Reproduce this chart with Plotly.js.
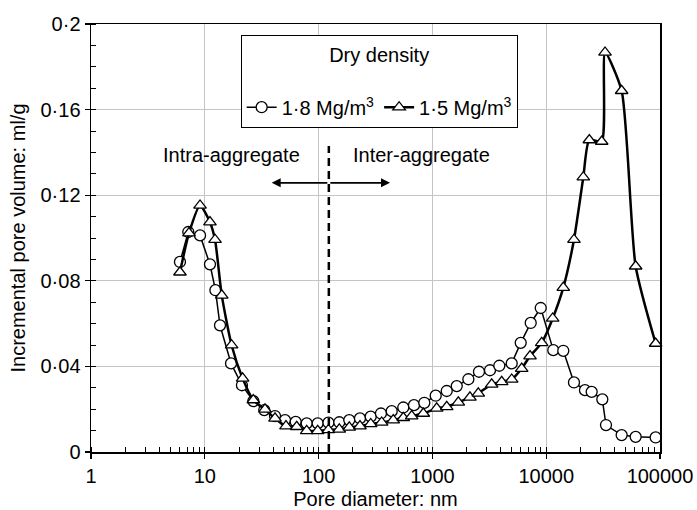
<!DOCTYPE html>
<html>
<head>
<meta charset="utf-8">
<script src="https://cdn.plot.ly/plotly-3.0.1.min.js"></script>
<style>html,body{margin:0;padding:0;background:#fff;}#chart{width:697px;height:510px;}</style>
</head>
<body>
<div id="chart"></div>
<script>
// Pore diameter (nm) and incremental pore volume (ml/g)
const d18 = [6.05, 7.16, 9.08, 11.1, 12.4, 13.6, 17.0, 21.2, 26.7, 33.3, 41.4, 50.7, 62.9, 78.6, 98.2, 122, 152, 186, 231, 287, 353, 439, 555, 689, 849, 1069, 1336, 1636, 2070, 2566, 3208, 3872, 4977, 5970, 7310, 8950, 11540, 14130, 17540, 21920, 25100, 31130, 33530, 46030, 61100, 91600];
const v18 = [0.0888, 0.1028, 0.1012, 0.0877, 0.0756, 0.0592, 0.0414, 0.0312, 0.0238, 0.0196, 0.0168, 0.0149, 0.0141, 0.0134, 0.0134, 0.0137, 0.0139, 0.0149, 0.0157, 0.0165, 0.0180, 0.0191, 0.0208, 0.0219, 0.0230, 0.0263, 0.0285, 0.0308, 0.0340, 0.0375, 0.0382, 0.0403, 0.0414, 0.0510, 0.0603, 0.0673, 0.0476, 0.0473, 0.0325, 0.0289, 0.0281, 0.0246, 0.0126, 0.0079, 0.0071, 0.0068];

const d15 = [6.05, 7.26, 9.08, 11.1, 12.3, 14.1, 17.2, 21.5, 26.7, 33.8, 41.4, 51.7, 64.2, 78.6, 98.2, 122, 152, 186, 231, 287, 358, 453, 555, 658, 832, 1091, 1336, 1690, 2138, 2530, 3319, 4064, 4977, 6090, 7210, 9130, 11400, 14130, 17540, 21190, 23930, 30740, 32880, 46030, 61100, 91600];
const v15 = [0.0840, 0.1023, 0.1152, 0.1074, 0.0992, 0.0732, 0.0499, 0.0344, 0.0243, 0.0199, 0.0157, 0.0121, 0.0118, 0.0099, 0.0099, 0.0103, 0.0106, 0.0115, 0.0121, 0.0131, 0.0138, 0.0149, 0.0160, 0.0168, 0.0180, 0.0204, 0.0211, 0.0232, 0.0255, 0.0274, 0.0316, 0.0328, 0.0339, 0.0390, 0.0448, 0.0510, 0.0624, 0.0768, 0.0992, 0.1284, 0.1458, 0.1451, 0.1867, 0.1688, 0.0868, 0.0507];

const seriesNames = ['1·8 Mg/m<sup>3</sup>', '1·5 Mg/m<sup>3</sup>'];
const legendTitle = 'Dry density';

const xTickVals = [1, 10, 100, 1000, 10000, 100000];
const xTickText = ['1', '10', '100', '1000', '10000', '100000'];
const yTickVals = [0, 0.04, 0.08, 0.12, 0.16, 0.2];
const yTickText = ['0', '0·04', '0·08', '0·12', '0·16', '0·2'];

const xTitle = 'Pore diameter: nm';
const yTitle = 'Incremental pore volume: ml/g';

// Divider between intra- and inter-aggregate pores
const dividerX = [123, 123];
const dividerY = [0, 0.143];
const arrowY = 0.1258;
const arrowLeft = 38.7;
const arrowRight = 424;
const labelY = 0.1386;
const intraLabel = {text: 'Intra-aggregate', x: 17.2};
const interLabel = {text: 'Inter-aggregate', x: 794};

const FONT = 'Arial, "Liberation Sans", sans-serif';

const traces = [
  {
    x: d18, y: v18, name: seriesNames[0], type: 'scatter', mode: 'lines+markers',
    line: {color: '#000', width: 1.5},
    marker: {symbol: 'circle', size: 11, color: '#fff', line: {color: '#000', width: 1.3}},
    cliponaxis: false
  },
  {
    x: d15, y: v15, name: seriesNames[1], type: 'scatter', mode: 'lines+markers',
    line: {color: '#000', width: 2.5, shape: 'spline', smoothing: 0.6},
    marker: {symbol: 'triangle-up', size: 11, color: '#fff', line: {color: '#000', width: 1.3}},
    cliponaxis: false
  },
  {
    x: dividerX, y: dividerY, type: 'scatter', mode: 'lines', showlegend: false, hoverinfo: 'skip',
    line: {color: '#000', width: 2.5, dash: '8px,5px'}
  }
];

const lg = Math.log10;
const layout = {
  width: 697, height: 510,
  margin: {l: 91, r: 37, t: 24, b: 58},
  paper_bgcolor: '#fff', plot_bgcolor: '#fff',
  font: {family: FONT, size: 20, color: '#000'},
  showlegend: true,
  legend: {
    x: 0.263, y: 0.975, xanchor: 'left', yanchor: 'top',
    orientation: 'h',
    bgcolor: '#fff', bordercolor: '#000', borderwidth: 1,
    font: {family: FONT, size: 20, color: '#000'},
    title: {text: legendTitle + '<br> ', side: 'top center', font: {family: FONT, size: 20, color: '#000'}},
    itemwidth: 30
  },
  xaxis: {
    type: 'log', range: [0, 5],
    tickmode: 'array', tickvals: xTickVals, ticktext: xTickText,
    ticks: 'outside', ticklen: 5, tickwidth: 1.2, tickcolor: '#000',
    showline: true, linecolor: '#000', linewidth: 1.5, mirror: true,
    showgrid: true, gridcolor: '#c4c4c4', gridwidth: 1,
    tickfont: {family: FONT, size: 20, color: '#000'},
    minor: {dtick: 'D1', ticks: 'inside', ticklen: 5, tickwidth: 1, tickcolor: '#000', showgrid: false},
    title: {text: xTitle, font: {family: FONT, size: 20, color: '#000'}, standoff: 8},
    zeroline: false
  },
  yaxis: {
    range: [0, 0.2],
    tickmode: 'array', tickvals: yTickVals, ticktext: yTickText,
    ticks: 'outside', ticklen: 5, tickwidth: 1.2, tickcolor: '#000',
    showline: true, linecolor: '#000', linewidth: 1.5, mirror: true,
    showgrid: true, gridcolor: '#c4c4c4', gridwidth: 1,
    tickfont: {family: FONT, size: 20, color: '#000'},
    minor: {dtick: 0.01, ticks: 'inside', ticklen: 5, tickwidth: 1, tickcolor: '#000', showgrid: false},
    title: {text: yTitle, font: {family: FONT, size: 20, color: '#000'}, standoff: 9},
    zeroline: false
  },
  annotations: [
    {x: lg(intraLabel.x), y: labelY, xref: 'x', yref: 'y', text: intraLabel.text, showarrow: false,
     font: {family: FONT, size: 20, color: '#000'}},
    {x: lg(interLabel.x), y: labelY, xref: 'x', yref: 'y', text: interLabel.text, showarrow: false,
     font: {family: FONT, size: 20, color: '#000'}},
    {x: lg(arrowLeft), y: arrowY, ax: lg(dividerX[0]), ay: arrowY, xref: 'x', yref: 'y', axref: 'x', ayref: 'y',
     text: '', showarrow: true, arrowhead: 2, arrowsize: 1, arrowwidth: 1.8, arrowcolor: '#000'},
    {x: lg(arrowRight), y: arrowY, ax: lg(dividerX[0]), ay: arrowY, xref: 'x', yref: 'y', axref: 'x', ayref: 'y',
     text: '', showarrow: true, arrowhead: 2, arrowsize: 1, arrowwidth: 1.8, arrowcolor: '#000'}
  ]
};

Plotly.newPlot('chart', traces, layout, {displayModeBar: false, staticPlot: true});
</script>
</body>
</html>
